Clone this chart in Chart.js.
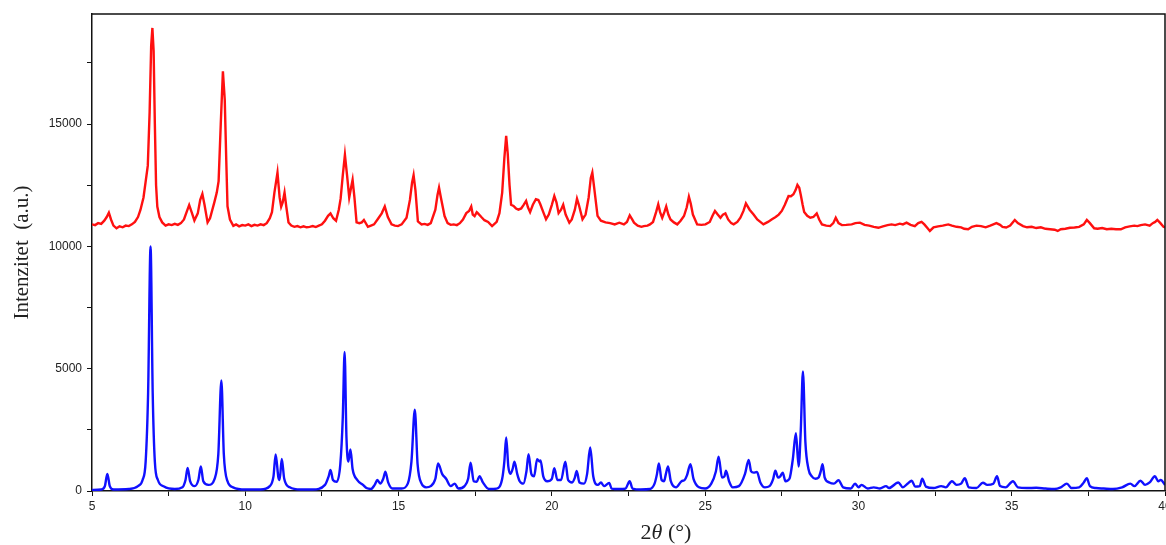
<!DOCTYPE html>
<html>
<head>
<meta charset="utf-8">
<script src="https://cdn.jsdelivr.net/npm/chart.js@4.4.1/dist/chart.umd.min.js"></script>
<style>
    body { margin: 0; background: #fff; }
    #wrap { width: 1166px; height: 545px; }
</style>
</head>
<body>
<div id="wrap"><canvas id="chart" width="1166" height="545"></canvas></div>
<script>
// measured pattern (red)
const expX = [5.0, 5.1, 5.2, 5.3, 5.4, 5.48, 5.55, 5.62, 5.7, 5.8, 5.9, 6.0, 6.1, 6.2, 6.3, 6.4, 6.5, 6.58, 6.68, 6.75, 6.82, 6.88, 6.93, 6.97, 7.01, 7.05, 7.09, 7.13, 7.2, 7.29, 7.4, 7.5, 7.6, 7.7, 7.8, 7.9, 8.0, 8.1, 8.17, 8.25, 8.34, 8.45, 8.53, 8.6, 8.67, 8.77, 8.85, 8.99, 9.07, 9.13, 9.2, 9.27, 9.33, 9.38, 9.42, 9.5, 9.61, 9.7, 9.8, 9.9, 10.0, 10.1, 10.2, 10.3, 10.4, 10.5, 10.6, 10.7, 10.8, 10.87, 10.95, 11.05, 11.12, 11.17, 11.22, 11.28, 11.34, 11.41, 11.5, 11.6, 11.7, 11.8, 11.9, 12.0, 12.1, 12.2, 12.3, 12.4, 12.5, 12.6, 12.7, 12.78, 12.87, 12.96, 13.05, 13.11, 13.18, 13.25, 13.32, 13.39, 13.45, 13.5, 13.56, 13.63, 13.72, 13.8, 13.87, 14.0, 14.1, 14.2, 14.33, 14.45, 14.55, 14.65, 14.77, 14.88, 14.98, 15.1, 15.26, 15.37, 15.44, 15.49, 15.55, 15.63, 15.75, 15.85, 15.95, 16.05, 16.2, 16.27, 16.32, 16.38, 16.5, 16.6, 16.7, 16.8, 16.9, 17.0, 17.1, 17.21, 17.3, 17.37, 17.42, 17.48, 17.55, 17.59, 17.7, 17.8, 17.92, 18.05, 18.2, 18.29, 18.38, 18.45, 18.51, 18.56, 18.62, 18.67, 18.75, 18.83, 18.91, 19.0, 19.08, 19.16, 19.22, 19.29, 19.38, 19.48, 19.56, 19.62, 19.72, 19.81, 19.9, 20.0, 20.08, 20.15, 20.22, 20.3, 20.37, 20.45, 20.57, 20.65, 20.75, 20.82, 20.88, 21.0, 21.1, 21.2, 21.27, 21.32, 21.38, 21.49, 21.6, 21.75, 21.9, 22.05, 22.2, 22.35, 22.45, 22.54, 22.62, 22.68, 22.8, 22.92, 23.0, 23.12, 23.2, 23.3, 23.4, 23.47, 23.53, 23.6, 23.67, 23.73, 23.8, 23.87, 23.98, 24.09, 24.2, 24.31, 24.4, 24.47, 24.53, 24.6, 24.74, 24.88, 25.01, 25.15, 25.24, 25.32, 25.41, 25.5, 25.58, 25.66, 25.75, 25.85, 25.93, 26.05, 26.15, 26.25, 26.33, 26.45, 26.58, 26.7, 26.8, 26.9, 27.05, 27.18, 27.3, 27.4, 27.5, 27.6, 27.72, 27.8, 27.88, 27.95, 28.01, 28.07, 28.12, 28.18, 28.23, 28.33, 28.43, 28.53, 28.64, 28.72, 28.81, 28.95, 29.08, 29.18, 29.26, 29.35, 29.46, 29.6, 29.78, 29.9, 30.05, 30.2, 30.35, 30.5, 30.65, 30.8, 30.95, 31.08, 31.2, 31.35, 31.45, 31.57, 31.7, 31.84, 31.95, 32.06, 32.15, 32.25, 32.33, 32.45, 32.6, 32.75, 32.93, 33.05, 33.2, 33.35, 33.45, 33.58, 33.7, 33.85, 34.0, 34.15, 34.3, 34.4, 34.5, 34.62, 34.7, 34.82, 34.95, 35.1, 35.2, 35.37, 35.5, 35.65, 35.8, 35.95, 36.1, 36.25, 36.4, 36.5, 36.6, 36.75, 36.9, 37.05, 37.2, 37.35, 37.45, 37.55, 37.69, 37.8, 37.95, 38.1, 38.25, 38.4, 38.56, 38.7, 38.85, 39.0, 39.1, 39.21, 39.35, 39.5, 39.6, 39.68, 39.75, 39.85, 39.95, 40.0];
const expY = [10900, 10870, 10950, 10920, 11050, 11200, 11380, 11100, 10850, 10740, 10820, 10780, 10850, 10830, 10900, 11000, 11200, 11490, 12000, 12650, 13300, 15500, 18200, 18930, 18000, 15000, 12500, 11630, 11200, 10980, 10850, 10900, 10870, 10920, 10880, 10950, 11100, 11450, 11690, 11400, 11060, 11350, 11900, 12140, 11700, 10980, 11150, 11800, 12200, 12670, 15000, 17160, 16000, 13500, 11640, 11100, 10840, 10900, 10820, 10870, 10850, 10900, 10830, 10880, 10850, 10900, 10870, 10950, 11150, 11400, 12200, 13020, 12000, 11620, 11800, 12200, 11600, 10980, 10850, 10800, 10830, 10780, 10820, 10780, 10800, 10830, 10790, 10850, 10900, 11050, 11250, 11350, 11150, 11050, 11500, 11950, 12900, 13740, 12900, 12000, 12400, 12720, 12000, 10980, 10950, 10980, 11080, 10800, 10850, 10900, 11130, 11350, 11630, 11200, 10900, 10850, 10830, 10900, 11170, 11900, 12600, 12910, 12300, 11020, 10900, 10920, 10880, 10950, 11500, 12100, 12400, 12000, 11240, 10950, 10880, 10900, 10870, 10950, 11100, 11360, 11450, 11630, 11300, 11240, 11400, 11350, 11200, 11070, 11000, 10830, 11000, 11360, 12200, 13600, 14520, 13800, 12500, 11700, 11650, 11550, 11500, 11550, 11700, 11860, 11600, 11400, 11700, 11930, 11900, 11730, 11400, 11110, 11300, 11700, 12060, 11800, 11360, 11500, 11700, 11300, 10970, 11100, 11500, 11950, 11700, 11110, 11300, 12000, 12800, 13020, 12400, 11250, 11050, 10980, 10950, 10900, 10970, 10900, 11000, 11270, 11100, 10970, 10850, 10800, 10830, 10850, 10900, 11000, 11400, 11720, 11400, 11170, 11400, 11630, 11300, 11100, 10980, 10900, 11050, 11240, 11600, 12030, 11750, 11300, 10900, 10880, 10900, 11000, 11250, 11450, 11300, 11170, 11300, 11350, 11100, 10950, 10900, 11000, 11170, 11450, 11760, 11500, 11300, 11100, 11000, 10900, 11000, 11110, 11200, 11300, 11450, 11700, 12060, 12050, 12130, 12300, 12510, 12400, 12100, 11700, 11410, 11250, 11170, 11200, 11350, 11100, 10900, 10850, 10830, 10950, 11170, 10950, 10870, 10880, 10900, 10950, 10970, 10880, 10850, 10800, 10760, 10820, 10870, 10900, 10870, 10930, 10900, 10970, 10880, 10830, 10950, 11000, 10900, 10750, 10630, 10780, 10820, 10850, 10900, 10850, 10800, 10780, 10720, 10700, 10800, 10850, 10830, 10780, 10850, 10900, 10950, 10880, 10800, 10770, 10850, 11080, 10950, 10830, 10780, 10800, 10750, 10780, 10720, 10700, 10680, 10630, 10700, 10720, 10760, 10770, 10800, 10900, 11080, 10950, 10740, 10720, 10750, 10700, 10720, 10700, 10700, 10780, 10820, 10850, 10830, 10870, 10900, 10850, 10950, 11000, 11080, 10950, 10800, 10780];

// calculated pattern (blue)
const calcX = [5.0, 5.3, 5.42, 5.5, 5.58, 5.7, 6.2, 6.5, 6.65, 6.75, 6.83, 6.91, 6.98, 7.05, 7.15, 7.35, 7.7, 7.95, 8.05, 8.12, 8.2, 8.35, 8.47, 8.55, 8.63, 8.8, 9.0, 9.12, 9.22, 9.3, 9.42, 9.6, 10.0, 10.5, 10.8, 10.92, 10.99, 11.08, 11.12, 11.19, 11.27, 11.45, 11.8, 12.2, 12.6, 12.72, 12.78, 12.86, 12.98, 13.1, 13.18, 13.24, 13.3, 13.36, 13.43, 13.5, 13.65, 13.84, 13.95, 14.1, 14.22, 14.31, 14.4, 14.5, 14.57, 14.66, 14.8, 15.1, 15.3, 15.42, 15.53, 15.62, 15.75, 15.9, 16.05, 16.2, 16.29, 16.42, 16.55, 16.7, 16.83, 16.95, 17.15, 17.27, 17.35, 17.45, 17.55, 17.64, 17.75, 17.95, 18.2, 18.38, 18.45, 18.51, 18.58, 18.65, 18.72, 18.78, 18.87, 18.95, 19.07, 19.17, 19.24, 19.33, 19.42, 19.52, 19.6, 19.63, 19.72, 19.85, 20.0, 20.08, 20.18, 20.3, 20.44, 20.53, 20.66, 20.75, 20.81, 20.9, 21.05, 21.15, 21.25, 21.35, 21.5, 21.6, 21.7, 21.87, 21.95, 22.2, 22.4, 22.54, 22.63, 22.9, 23.2, 23.35, 23.43, 23.49, 23.58, 23.66, 23.72, 23.79, 23.88, 24.05, 24.23, 24.33, 24.41, 24.52, 24.62, 24.8, 25.0, 25.2, 25.35, 25.44, 25.55, 25.63, 25.68, 25.78, 25.9, 26.1, 26.3, 26.42, 26.5, 26.58, 26.69, 26.8, 26.95, 27.1, 27.22, 27.29, 27.38, 27.45, 27.53, 27.62, 27.75, 27.86, 27.96, 28.05, 28.12, 28.19, 28.27, 28.37, 28.48, 28.6, 28.7, 28.77, 28.83, 28.9, 29.05, 29.2, 29.35, 29.5, 29.75, 29.89, 30.0, 30.1, 30.3, 30.5, 30.7, 30.9, 31.0, 31.3, 31.45, 31.6, 31.74, 31.85, 32.0, 32.08, 32.2, 32.45, 32.7, 32.85, 33.05, 33.2, 33.35, 33.47, 33.6, 33.85, 34.06, 34.2, 34.4, 34.52, 34.62, 34.8, 35.04, 35.2, 35.5, 35.8, 36.1, 36.4, 36.6, 36.8, 36.95, 37.2, 37.35, 37.45, 37.55, 37.75, 38.0, 38.3, 38.6, 38.87, 39.0, 39.2, 39.35, 39.5, 39.67, 39.78, 39.86, 40.0];
const calcY = [40, 60, 200, 700, 200, 60, 80, 200, 450, 1200, 4000, 10000, 4000, 1200, 450, 180, 80, 150, 450, 940, 400, 200, 450, 1000, 400, 250, 500, 1500, 4520, 1500, 400, 150, 60, 60, 200, 600, 1490, 550, 450, 1310, 500, 150, 60, 60, 250, 600, 860, 450, 380, 1100, 3000, 5680, 2200, 1200, 1700, 900, 450, 250, 120, 80, 250, 450, 300, 500, 790, 350, 100, 100, 300, 1200, 3320, 1100, 300, 150, 200, 500, 1130, 700, 500, 200, 300, 100, 200, 500, 1160, 400, 380, 610, 350, 80, 100, 500, 1200, 2190, 1000, 700, 900, 1200, 700, 400, 300, 800, 1500, 700, 600, 1300, 1200, 1250, 600, 400, 500, 930, 450, 450, 1200, 450, 350, 550, 820, 350, 300, 700, 1780, 600, 250, 350, 200, 330, 100, 80, 100, 400, 100, 60, 80, 300, 700, 1130, 450, 400, 700, 1000, 400, 150, 400, 450, 650, 1100, 500, 150, 100, 300, 800, 1400, 550, 600, 830, 400, 150, 200, 700, 1270, 800, 750, 780, 350, 150, 200, 500, 830, 550, 600, 750, 400, 500, 1300, 2360, 1000, 2500, 4890, 2000, 900, 600, 500, 550, 800, 1100, 550, 350, 300, 440, 150, 100, 300, 150, 250, 100, 150, 100, 200, 120, 350, 150, 300, 420, 180, 200, 500, 180, 120, 200, 150, 400, 250, 300, 520, 150, 120, 340, 250, 300, 600, 200, 150, 400, 150, 120, 130, 100, 80, 150, 300, 120, 150, 350, 520, 200, 120, 100, 80, 150, 300, 200, 420, 250, 350, 600, 400, 450, 250];

// axis ticks: every value gets a tick mark, the labelled ones get text
const xTickValues = [5, 7.5, 10, 12.5, 15, 17.5, 20, 22.5, 25, 27.5, 30, 32.5, 35, 37.5, 40];
const xTickLabels = [5, 10, 15, 20, 25, 30, 35, 40];
const yTickValues = [0, 2500, 5000, 7500, 10000, 12500, 15000, 17500];
const yTickLabels = [0, 5000, 10000, 15000];

function toPoints(xs, ys) {
    return xs.map((x, i) => ({ x: x, y: ys[i] }));
}

const frame = {
    id: "frame",
    afterDraw(chart) {
        const { ctx, chartArea } = chart;
        ctx.save();
        ctx.strokeStyle = "#111";
        ctx.lineWidth = 1.5;
        ctx.beginPath();
        ctx.moveTo(chartArea.left, chartArea.top);
        ctx.lineTo(chartArea.right, chartArea.top);
        ctx.lineTo(chartArea.right, chartArea.bottom);
        ctx.stroke();

        // x title: 2θ (°) with the theta in italics
        const parts = [
            ["2", "22px 'Liberation Serif', serif"],
            ["\u03B8", "italic 22px 'Liberation Serif', serif"],
            [" (\u00B0)", "22px 'Liberation Serif', serif"]
        ];
        let total = 0;
        parts.forEach(p => { ctx.font = p[1]; total += ctx.measureText(p[0]).width; });
        let x = 666 - total / 2;
        ctx.fillStyle = "#222";
        ctx.textBaseline = "middle";
        parts.forEach(p => {
            ctx.font = p[1];
            ctx.fillText(p[0], x, 533);
            x += ctx.measureText(p[0]).width;
        });
        ctx.restore();
    }
};

new Chart(document.getElementById("chart"), {
    type: "line",
    data: {
        datasets: [{
            label: "measured",
            data: toPoints(expX, expY),
            borderColor: "#ff1010",
            borderWidth: 2.4,
            pointRadius: 0,
            tension: 0
        }, {
            label: "calculated",
            data: toPoints(calcX, calcY),
            borderColor: "#1010ff",
            borderWidth: 2.4,
            pointRadius: 0,
            cubicInterpolationMode: "monotone"
        }]
    },
    options: {
        responsive: false,
        animation: false,
        layout: { padding: { top: 14, right: 1, left: 0, bottom: 0 } },
        plugins: {
            legend: { display: false },
            tooltip: { enabled: false }
        },
        scales: {
            x: {
                type: "linear",
                min: 5,
                max: 40,
                afterBuildTicks(scale) {
                    scale.ticks = xTickValues.map(v => ({ value: v }));
                },
                afterFit(scale) {
                    scale.height = 54;
                    scale.paddingLeft = 0;
                    scale.paddingRight = 0;
                },
                ticks: {
                    autoSkip: false,
                    maxRotation: 0,
                    padding: 3,
                    color: "#222",
                    font: { family: "'Liberation Sans', Arial", size: 12 },
                    callback: v => xTickLabels.includes(v) ? String(v) : ""
                },
                grid: { drawOnChartArea: false, tickLength: 5, color: "#111" },
                border: { color: "#111", width: 1.5 }
            },
            y: {
                min: 0,
                max: 19500,
                afterBuildTicks(scale) {
                    scale.ticks = yTickValues.map(v => ({ value: v }));
                },
                afterFit(scale) {
                    scale.width = 92;
                    scale.paddingTop = 0;
                    scale.paddingBottom = 0;
                },
                ticks: {
                    autoSkip: false,
                    padding: 5,
                    color: "#222",
                    font: { family: "'Liberation Sans', Arial", size: 12 },
                    callback: v => yTickLabels.includes(v) ? String(v) : ""
                },
                grid: { drawOnChartArea: false, tickLength: 5, color: "#111" },
                border: { color: "#111", width: 1.5 },
                title: {
                    display: true,
                    text: "Intenzitet  (a.u.)",
                    color: "#222",
                    padding: { top: 10, bottom: 0 },
                    font: { family: "'Liberation Serif', serif", size: 21 }
                }
            }
        }
    },
    plugins: [frame]
});
</script>
</body>
</html>
